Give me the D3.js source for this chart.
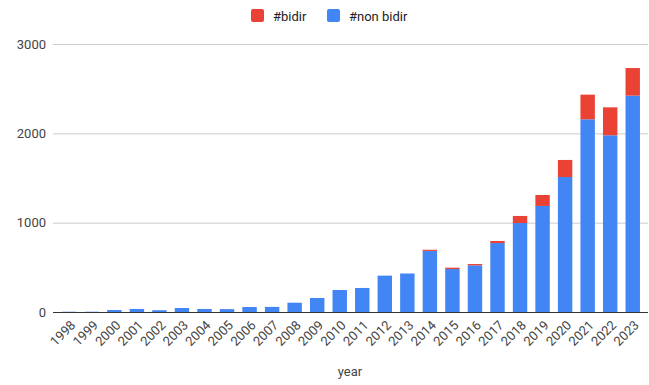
<!DOCTYPE html>
<html>
<head>
<meta charset="utf-8">
<script src="https://cdn.jsdelivr.net/npm/d3@7"></script>
<style>
  html, body { margin: 0; padding: 0; background: #fff; }
  svg { display: block; font-family: Roboto, "Noto Sans", Arial, sans-serif; }
</style>
</head>
<body>
<svg id="chart" width="649" height="385"></svg>
<script>
// Yearly counts, split into bidirectional and non-bidirectional
const years = ["1998","1999","2000","2001","2002","2003","2004","2005","2006","2007","2008","2009","2010",
               "2011","2012","2013","2014","2015","2016","2017","2018","2019","2020","2021","2022","2023"];
const nonBidir = [3, 3, 22, 34, 20, 45, 34, 32, 56, 57, 104, 157, 246,
                  269, 407, 431, 684, 481, 522, 772, 996, 1187, 1511, 2157, 1978, 2422];
const bidir = [0, 0, 0, 0, 0, 0, 0, 0, 0, 0, 0, 0, 0,
               0, 0, 0, 13, 15, 15, 23, 79, 123, 191, 276, 313, 309];
const yTicks = [0, 1000, 2000, 3000];
const seriesNames = ["#bidir", "#non bidir"];
const seriesColors = ["#ea4335", "#4285f4"];

const svg = d3.select("#chart");
const gridLeft = 53, gridRight = 648;
const font = "Roboto, 'Noto Sans', Arial, sans-serif";

const x = d3.scaleBand().domain(years).range([58, 644]).paddingInner(0.36).paddingOuter(0.18);
const y = d3.scaleLinear().domain([0, 3000]).range([312, 44]);

// Horizontal gridlines
svg.append("g")
  .selectAll("line")
  .data(yTicks.filter(d => d !== 0))
  .join("line")
  .attr("x1", gridLeft).attr("x2", gridRight)
  .attr("y1", d => y(d) + 0.5).attr("y2", d => y(d) + 0.5)
  .attr("stroke", "#cccccc").attr("stroke-width", 1);

// Y axis labels
const yAxis = svg.append("g")
  .attr("transform", `translate(${gridLeft},0)`)
  .call(d3.axisLeft(y).tickValues(yTicks).tickSize(0).tickPadding(7).tickFormat(d3.format("d")));
yAxis.select(".domain").remove();
yAxis.selectAll("text").attr("fill", "#444").style("font-size", "13px").style("font-family", font);

// Stacked bars
const rows = years.map((yr, i) => ({ year: yr, nonBidir: nonBidir[i], bidir: bidir[i] }));
const stack = d3.stack().keys(["nonBidir", "bidir"])(rows);
const colorFor = { nonBidir: seriesColors[1], bidir: seriesColors[0] };

svg.append("g")
  .selectAll("g")
  .data(stack)
  .join("g")
  .attr("fill", s => colorFor[s.key])
  .selectAll("rect")
  .data(s => s)
  .join("rect")
  .attr("x", d => x(d.data.year))
  .attr("width", x.bandwidth())
  .attr("y", d => y(d[1]))
  .attr("height", d => Math.max(0, y(d[0]) - y(d[1])));

// Baseline
svg.append("line")
  .attr("x1", gridLeft).attr("x2", gridRight)
  .attr("y1", y(0) + 0.5).attr("y2", y(0) + 0.5)
  .attr("stroke", "#333").attr("stroke-width", 1.2);

// X axis labels, rotated
const xAxis = svg.append("g")
  .attr("transform", `translate(0,${y(0)})`)
  .call(d3.axisBottom(x).tickSize(0).tickPadding(0));
xAxis.select(".domain").remove();
xAxis.selectAll("text")
  .attr("fill", "#444")
  .style("font-size", "13px")
  .style("font-family", font)
  .attr("text-anchor", "end")
  .attr("dy", "0")
  .attr("transform", "translate(7,14) rotate(-45)")
  .attr("y", 0).attr("x", 0);

// Axis title
svg.append("text")
  .attr("x", 350).attr("y", 376)
  .attr("text-anchor", "middle")
  .attr("fill", "#444")
  .style("font-size", "13px")
  .text("year");

// Legend
const legend = svg.append("g");
const legendItems = [
  { name: seriesNames[0], color: seriesColors[0], x: 251 },
  { name: seriesNames[1], color: seriesColors[1], x: 327 }
];
legendItems.forEach(item => {
  legend.append("rect")
    .attr("x", item.x).attr("y", 9).attr("width", 13).attr("height", 13)
    .attr("rx", 2).attr("fill", item.color);
  legend.append("text")
    .attr("x", item.x + 22).attr("y", 20.5)
    .attr("fill", "#222")
    .style("font-size", "13px")
    .text(item.name);
});
</script>
</body>
</html>
